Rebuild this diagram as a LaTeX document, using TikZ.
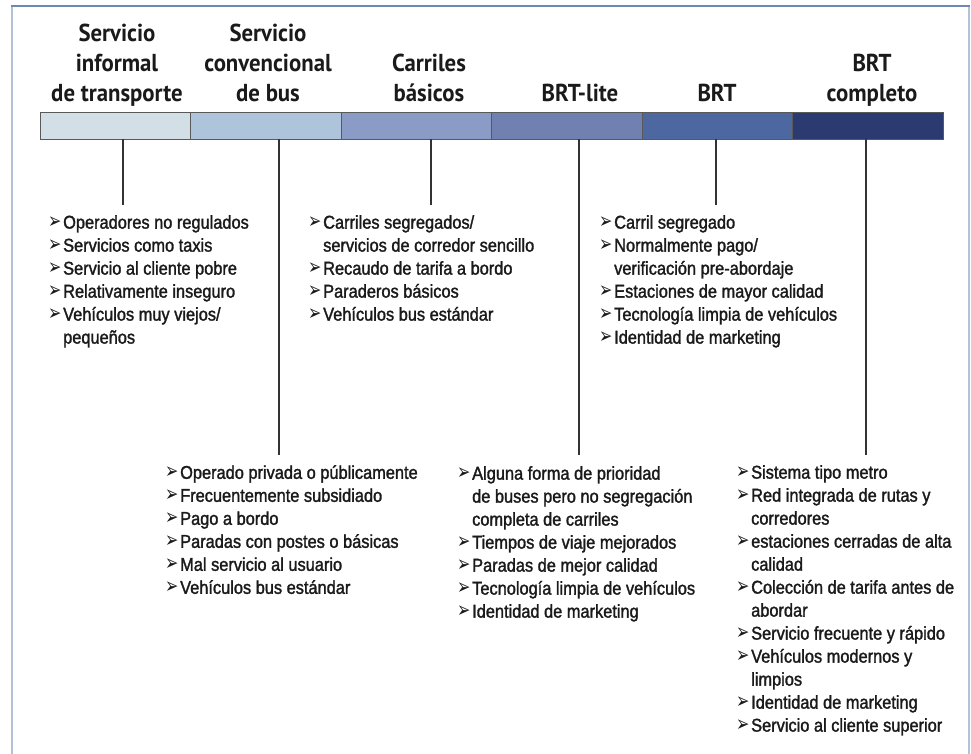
\documentclass[tikz,border=0pt]{standalone}
\usepackage{fontspec}
\usepackage{graphicx}
\newfontfamily\titlefont[FakeStretch=0.93]{PT Sans}
\newfontfamily\bodyfont[FakeStretch=0.885,FakeBold=1.6]{Liberation Sans}
\newfontfamily\symfont{DejaVu Sans}
\newcommand\bul{\raisebox{0.3pt}{\scalebox{0.72}[1]{\symfont\fontsize{22}{22}\selectfont ➢}}}
\newcommand\bl[1]{\makebox[15pt][l]{\bul}#1}
\newcommand\cont[1]{\hspace*{15pt}#1}
\definecolor{segA}{HTML}{D3DFE7}
\definecolor{segB}{HTML}{AEC4DB}
\definecolor{segC}{HTML}{8A9CC6}
\definecolor{segD}{HTML}{6F80B1}
\definecolor{segE}{HTML}{4D67A0}
\definecolor{segF}{HTML}{2B3A70}
\definecolor{frameside}{HTML}{B4C2D8}
\definecolor{frametop}{HTML}{6F87B5}
\definecolor{txt}{HTML}{1A1A1A}
\tikzset{
  seg/.style={draw=black!65, line width=0.9pt, minimum width=150.5pt, minimum height=27pt, inner sep=0pt, outer sep=0pt},
  ttl/.style={font=\titlefont\bfseries\fontsize{24.5}{30}\selectfont, align=center, anchor=south, inner sep=0pt, text=txt},
  items/.style={font=\bodyfont\fontsize{18.5}{23}\selectfont, align=left, anchor=north west, inner sep=0pt, text=txt},
  conn/.style={draw=black!80, line width=1.1pt}
}
\begin{document}
\begin{tikzpicture}[x=1pt,y=-1pt]
\useasboundingbox (0,0) rectangle (971,754);
% frame
\draw[frameside, line width=2pt] (12,760) -- (12,6);
\draw[frameside, line width=2pt] (969,6) -- (969,760);
\draw[frametop, line width=2pt] (11,6) -- (970,6);
% bar segments
\node[seg, fill=segA] (s1) at (115.25,125.5) {};
\node[seg, fill=segB] (s2) at (265.75,125.5) {};
\node[seg, fill=segC] (s3) at (416.25,125.5) {};
\node[seg, fill=segD] (s4) at (566.75,125.5) {};
\node[seg, fill=segE] (s5) at (717.25,125.5) {};
\node[seg, fill=segF] (s6) at (867.75,125.5) {};
% titles
\node[ttl] (t1) at (117,107) {Servicio\\informal\\de transporte\vphantom{p}};
\node[ttl] (t2) at (268,107) {Servicio\\convencional\\de bus\vphantom{p}};
\node[ttl] (t3) at (429,107) {Carriles\\básicos\vphantom{p}};
\node[ttl] (t4) at (580,107) {BRT-lite\vphantom{p}};
\node[ttl] (t5) at (717,107) {BRT\vphantom{p}};
\node[ttl] (t6) at (872,107) {BRT\\completo\vphantom{p}};
% item blocks
\node[items] (b1) at (48,215) {\bl{Operadores no regulados}\\\bl{Servicios como taxis}\\\bl{Servicio al cliente pobre}\\\bl{Relativamente inseguro}\\\bl{Vehículos muy viejos/}\\\cont{pequeños}};
\node[items] (b3) at (308,215) {\bl{Carriles segregados/}\\\cont{servicios de corredor sencillo}\\\bl{Recaudo de tarifa a bordo}\\\bl{Paraderos básicos}\\\bl{Vehículos bus estándar}};
\node[items] (b5) at (599,215) {\bl{Carril segregado}\\\bl{Normalmente pago/}\\\cont{verificación pre-abordaje}\\\bl{Estaciones de mayor calidad}\\\bl{Tecnología limpia de vehículos}\\\bl{Identidad de marketing}};
\node[items] (b2) at (165,465) {\bl{Operado privada o públicamente}\\\bl{Frecuentemente subsidiado}\\\bl{Pago a bordo}\\\bl{Paradas con postes o básicas}\\\bl{Mal servicio al usuario}\\\bl{Vehículos bus estándar}};
\node[items] (b4) at (457,466) {\bl{Alguna forma de prioridad}\\\cont{de buses pero no segregación}\\\cont{completa de carriles}\\\bl{Tiempos de viaje mejorados}\\\bl{Paradas de mejor calidad}\\\bl{Tecnología limpia de vehículos}\\\bl{Identidad de marketing}};
\node[items] (b6) at (736,465) {\bl{Sistema tipo metro}\\\bl{Red integrada de rutas y}\\\cont{corredores}\\\bl{estaciones cerradas de alta}\\\cont{calidad}\\\bl{Colección de tarifa antes de}\\\cont{abordar}\\\bl{Servicio frecuente y rápido}\\\bl{Vehículos modernos y}\\\cont{limpios}\\\bl{Identidad de marketing}\\\bl{Servicio al cliente superior}};
% connectors
\coordinate (c1) at (123,205);
\coordinate (c2) at (279,455);
\coordinate (c3) at (431,205);
\coordinate (c4) at (579,455);
\coordinate (c5) at (716,205);
\coordinate (c6) at (866,455);
\draw[conn] (c1 |- s1.south) -- (c1);
\draw[conn] (c2 |- s2.south) -- (c2);
\draw[conn] (c3 |- s3.south) -- (c3);
\draw[conn] (c4 |- s4.south) -- (c4);
\draw[conn] (c5 |- s5.south) -- (c5);
\draw[conn] (c6 |- s6.south) -- (c6);
\end{tikzpicture}
\end{document}
